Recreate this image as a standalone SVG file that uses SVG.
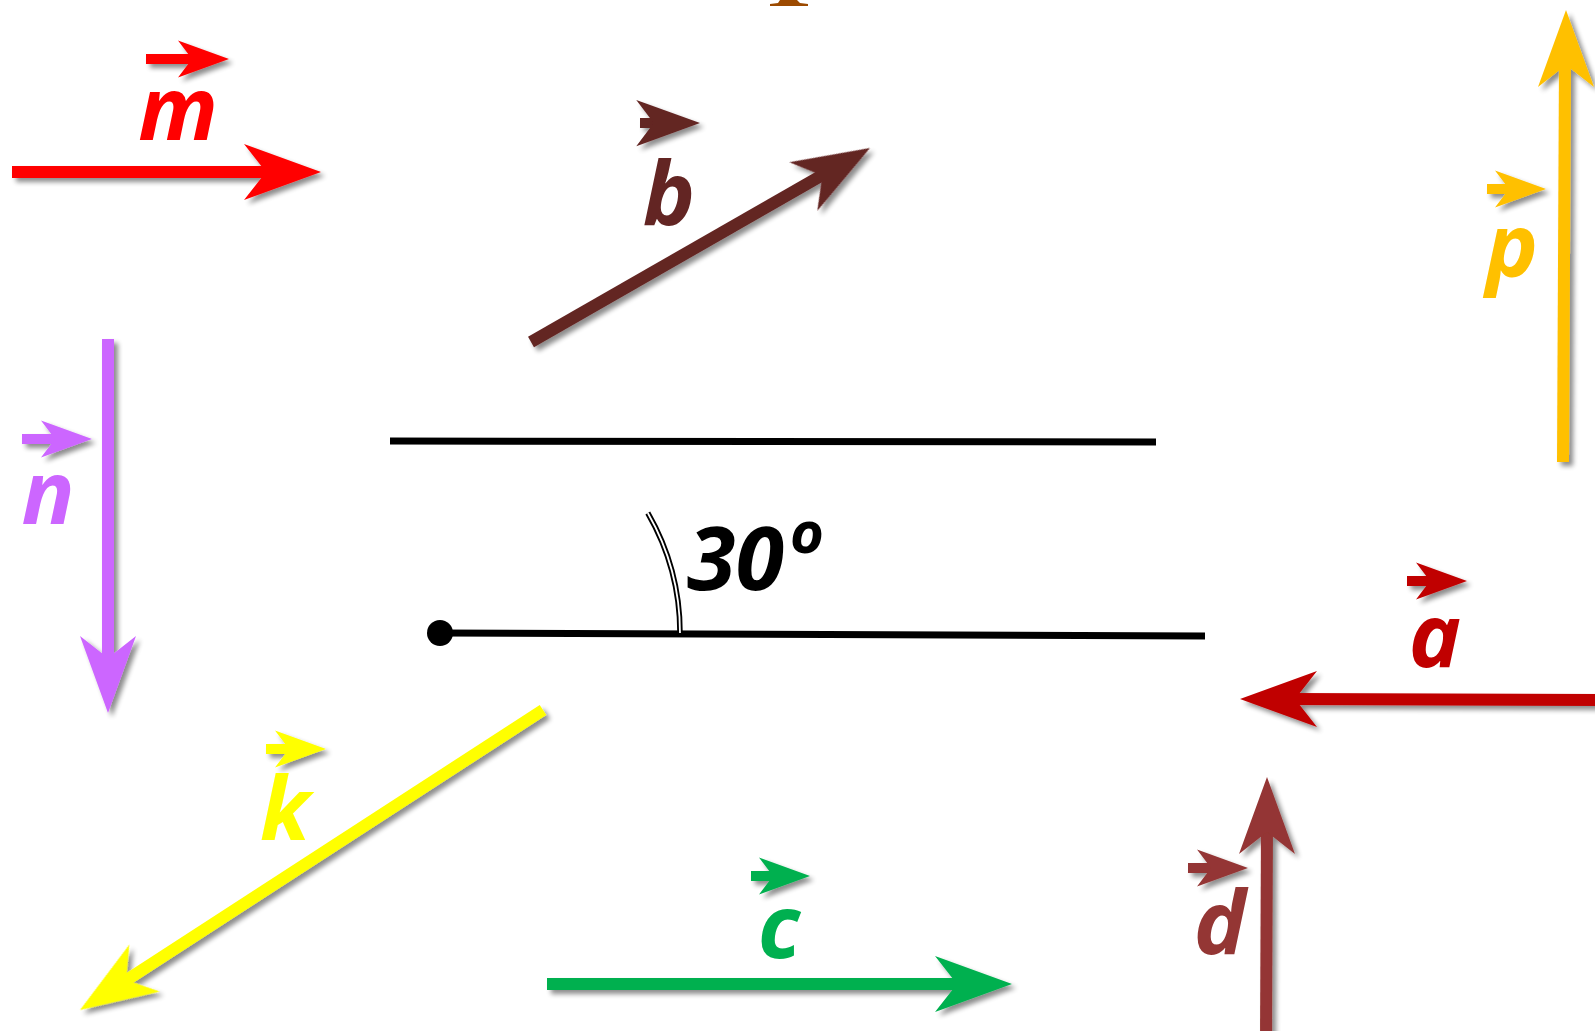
<svg xmlns="http://www.w3.org/2000/svg" xmlns:xlink="http://www.w3.org/1999/xlink" width="1595" height="1031" viewBox="0 0 1595 1031">
<style>
.lbl{font-family:"Open Sans","Noto Sans","Liberation Sans",sans-serif;font-style:italic;font-weight:bold;font-size:88px;text-anchor:middle}
.shaft{fill:none;stroke-width:12;stroke-linecap:butt}
.mini{fill:none;stroke-width:10;stroke-linecap:butt}
.blk{fill:none;stroke:#000;stroke-width:7}
</style>
<defs>
<filter id="sh" filterUnits="userSpaceOnUse" x="0" y="0" width="1595" height="1031">
<feGaussianBlur in="SourceAlpha" stdDeviation="2.5"/>
<feOffset dx="4" dy="4" result="o"/>
<feComponentTransfer><feFuncA type="linear" slope="0.45"/></feComponentTransfer>
<feMerge><feMergeNode/><feMergeNode in="SourceGraphic"/></feMerge>
</filter>
<path id="head" d="M0,0 L-77,-28 L-55,0 L-77,28 Z"/>
<path id="shead" d="M0,0 L-51,-18.5 L-37,0 L-51,18.5 Z"/>
</defs>
<rect width="1595" height="1031" fill="#fff"/>
<path d="M780,0 L797,0 L800,3 L808,4 L808,6 L770,6 L770,4 L778,3 Z" fill="#9C4A00"/>
<g id="connectors">
<g id="vec-m" filter="url(#sh)"><line class="shaft" stroke="#FF0000" x1="12" y1="172" x2="270" y2="172"/><use href="#head" fill="#FF0000" transform="translate(321,172)"/></g>
<g id="vec-b" filter="url(#sh)"><line class="shaft" stroke="#632523" x1="531" y1="342" x2="826" y2="173"/><use href="#head" fill="#632523" transform="translate(870,148) rotate(-30)"/></g>
<g id="vec-p" filter="url(#sh)"><line class="shaft" stroke="#FFC000" x1="1563" y1="462" x2="1565" y2="60"/><use href="#head" fill="#FFC000" transform="translate(1566,10) rotate(-90)"/></g>
<g id="vec-a" filter="url(#sh)"><line class="shaft" stroke="#C00000" x1="1600" y1="700" x2="1290" y2="699"/><use href="#head" fill="#C00000" transform="translate(1240,699) rotate(180)"/></g>
<g id="vec-d" filter="url(#sh)"><line class="shaft" stroke="#943634" x1="1266" y1="1040" x2="1267" y2="827"/><use href="#head" fill="#943634" transform="translate(1267,777) rotate(-90)"/></g>
<g id="vec-n" filter="url(#sh)"><line class="shaft" stroke="#CC66FF" x1="108" y1="339" x2="108" y2="663"/><use href="#head" fill="#CC66FF" transform="translate(108,713) rotate(90)"/></g>
<g id="vec-k" filter="url(#sh)"><line class="shaft" stroke="#FFFF00" x1="543" y1="710" x2="122" y2="983"/><use href="#head" fill="#FFFF00" transform="translate(80,1010) rotate(147)"/></g>
<g id="vec-c" filter="url(#sh)"><line class="shaft" stroke="#00B050" x1="547" y1="984" x2="962" y2="984"/><use href="#head" fill="#00B050" transform="translate(1012,984)"/></g>
</g>
<g id="geometry">
<line class="blk" x1="390" y1="441" x2="1156" y2="442"/>
<line class="blk" x1="440" y1="633" x2="1205" y2="636"/>
<circle cx="440" cy="633" r="13" fill="#000"/>
<path d="M647.8,513 A240,240 0 0 1 680,633" fill="none" stroke="#000" stroke-width="5.5"/>
<path d="M647.8,513 A240,240 0 0 1 680,633" fill="none" stroke="#fff" stroke-width="1.8"/>
<text class="lbl" x="687" y="590" style="text-anchor:start">30</text>
<text class="lbl" x="790" y="553" style="text-anchor:start;font-size:58px">o</text>
</g>
<g id="label-m"><g filter="url(#sh)"><line class="mini" stroke="#FF0000" x1="146" y1="59" x2="195" y2="59"/><use href="#shead" fill="#FF0000" transform="translate(229,59)"/></g><text class="lbl" fill="#FF0000" x="178" y="140">m</text></g>
<g id="label-b"><g filter="url(#sh)"><line class="mini" stroke="#632523" stroke-width="11" x1="640" y1="123" x2="660" y2="123"/><use href="#shead" fill="#632523" transform="translate(700,123) scale(1.25)"/></g><text class="lbl" fill="#632523" x="669" y="225">b</text></g>
<g id="label-p"><g filter="url(#sh)"><line class="mini" stroke="#FFC000" x1="1487" y1="189" x2="1512" y2="189"/><use href="#shead" fill="#FFC000" transform="translate(1546,189)"/></g><text class="lbl" fill="#FFC000" x="1512" y="277">p</text></g>
<g id="label-a"><g filter="url(#sh)"><line class="mini" stroke="#C00000" x1="1407" y1="581" x2="1432" y2="581"/><use href="#shead" fill="#C00000" transform="translate(1467,581)"/></g><text class="lbl" fill="#C00000" x="1435" y="667">a</text></g>
<g id="label-d"><g filter="url(#sh)"><line class="mini" stroke="#943634" x1="1188" y1="868" x2="1214" y2="868"/><use href="#shead" fill="#943634" transform="translate(1248,868)"/></g><text class="lbl" fill="#943634" x="1220" y="954">d</text></g>
<g id="label-n"><g filter="url(#sh)"><line class="mini" stroke="#CC66FF" x1="22" y1="439" x2="57" y2="439"/><use href="#shead" fill="#CC66FF" transform="translate(92,439)"/></g><text class="lbl" fill="#CC66FF" x="48" y="524">n</text></g>
<g id="label-k"><g filter="url(#sh)"><line class="mini" stroke="#FFFF00" x1="266" y1="749" x2="290" y2="749"/><use href="#shead" fill="#FFFF00" transform="translate(326,749)"/></g><text class="lbl" fill="#FFFF00" x="285" y="840">k</text></g>
<g id="label-c"><g filter="url(#sh)"><line class="mini" stroke="#00B050" x1="751" y1="876" x2="775" y2="876"/><use href="#shead" fill="#00B050" transform="translate(810,876)"/></g><text class="lbl" fill="#00B050" x="779" y="958">c</text></g>
</svg>
